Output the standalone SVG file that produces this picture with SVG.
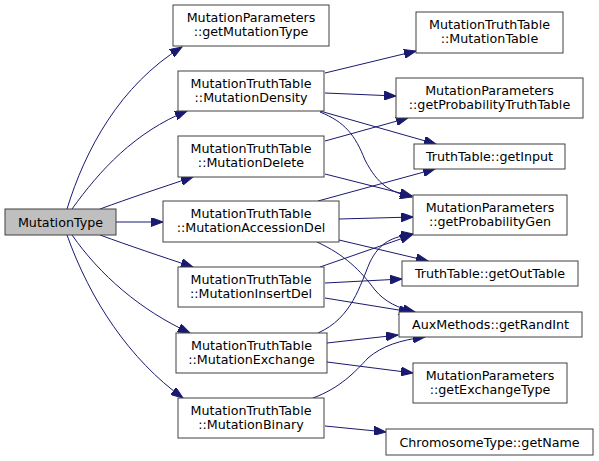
<svg xmlns="http://www.w3.org/2000/svg" width="599" height="461" viewBox="0 0 599 461">
<style>
.n rect{fill:#fff;stroke:#404040;stroke-width:1}
.n.root rect{fill:#bfbfbf}
.n text{font-family:"DejaVu Sans",sans-serif;font-size:12.7px;text-anchor:middle;fill:#000}
.e path{fill:none;stroke:#191970;stroke-width:1;marker-end:url(#arr)}
</style>
<defs>
<marker id="arr" markerUnits="userSpaceOnUse" markerWidth="13" markerHeight="9" refX="12" refY="4.5" orient="auto">
<path d="M0,0 L12,4.5 L0,9 z" fill="#191970" stroke="#191970" stroke-width="1"/>
</marker>
</defs>
<rect width="599" height="461" fill="#fff"/>
<g class="e" id="edges">
<path d="M67,209 C85,150 120,85 182,47"/>
<path d="M72,209 C100,170 135,132 187,111"/>
<path d="M100,209 C130,198 160,188 193,177"/>
<path d="M116,222 L163,222"/>
<path d="M100,235 C130,246 160,256 193,267"/>
<path d="M72,235 C100,275 140,310 190,333"/>
<path d="M67,235 C90,300 130,360 183,398"/>
<path d="M325,73 L416,51"/>
<path d="M325,93 L396,96"/>
<path d="M320,111 L436,144"/>
<path d="M320,112 C345,122 355,135 365,160 C378,185 390,192 412,197"/>
<path d="M325,141 L408,118"/>
<path d="M325,174 L412,196"/>
<path d="M318,201 L435,169"/>
<path d="M339,219 L413,217"/>
<path d="M339,240 L428,261"/>
<path d="M317,242 C345,255 360,270 375,290 C385,302 398,308 415,312"/>
<path d="M320,267 L412,235"/>
<path d="M325,283 L402,279"/>
<path d="M325,298 L411,312"/>
<path d="M318,333 C352,318 360,285 370,262 C380,242 392,237 413,234"/>
<path d="M327,343 L398,335"/>
<path d="M327,362 L413,373"/>
<path d="M313,398 C340,388 355,372 368,358 C382,346 400,340 425,337"/>
<path d="M325,426 L386,432"/>
</g>
<g class="n root" id="MutationType"><rect x="5" y="209" width="111" height="26"/><text x="60.5" y="226.5">MutationType</text></g>
<g class="n" id="getMutationType"><rect x="173" y="5" width="156" height="41"/><text x="251" y="22">MutationParameters</text><text x="251" y="36">::getMutationType</text></g>
<g class="n" id="MutationDensity"><rect x="178" y="71" width="146" height="40"/><text x="251" y="88">MutationTruthTable</text><text x="251" y="102">::MutationDensity</text></g>
<g class="n" id="MutationDelete"><rect x="178" y="136" width="146" height="41"/><text x="251" y="153">MutationTruthTable</text><text x="251" y="167">::MutationDelete</text></g>
<g class="n" id="MutationAccessionDel"><rect x="163" y="201" width="176" height="41"/><text x="251" y="218">MutationTruthTable</text><text x="251" y="232">::MutationAccessionDel</text></g>
<g class="n" id="MutationInsertDel"><rect x="178" y="267" width="146" height="40"/><text x="251" y="284">MutationTruthTable</text><text x="251" y="298">::MutationInsertDel</text></g>
<g class="n" id="MutationExchange"><rect x="176" y="333" width="151" height="40"/><text x="251.5" y="350">MutationTruthTable</text><text x="251.5" y="364">::MutationExchange</text></g>
<g class="n" id="MutationBinary"><rect x="178" y="398" width="146" height="40"/><text x="251" y="415">MutationTruthTable</text><text x="251" y="429">::MutationBinary</text></g>
<g class="n" id="MutationTable"><rect x="416" y="12" width="147" height="41"/><text x="489.5" y="29">MutationTruthTable</text><text x="489.5" y="43">::MutationTable</text></g>
<g class="n" id="getProbabilityTruthTable"><rect x="396" y="78" width="187" height="40"/><text x="489.5" y="95">MutationParameters</text><text x="489.5" y="109">::getProbabilityTruthTable</text></g>
<g class="n" id="getInput"><rect x="414" y="144" width="151" height="25"/><text x="489.5" y="161">TruthTable::getInput</text></g>
<g class="n" id="getProbabilityGen"><rect x="413" y="195" width="154" height="40"/><text x="490" y="212">MutationParameters</text><text x="490" y="226">::getProbabilityGen</text></g>
<g class="n" id="getOutTable"><rect x="402" y="261" width="176" height="25"/><text x="490" y="278">TruthTable::getOutTable</text></g>
<g class="n" id="getRandInt"><rect x="399" y="312" width="183" height="25"/><text x="490.5" y="329">AuxMethods::getRandInt</text></g>
<g class="n" id="getExchangeType"><rect x="413" y="363" width="154" height="40"/><text x="490" y="380">MutationParameters</text><text x="490" y="394">::getExchangeType</text></g>
<g class="n" id="getName"><rect x="386" y="429" width="207" height="26"/><text x="489.5" y="446.5">ChromosomeType::getName</text></g>
</svg>
